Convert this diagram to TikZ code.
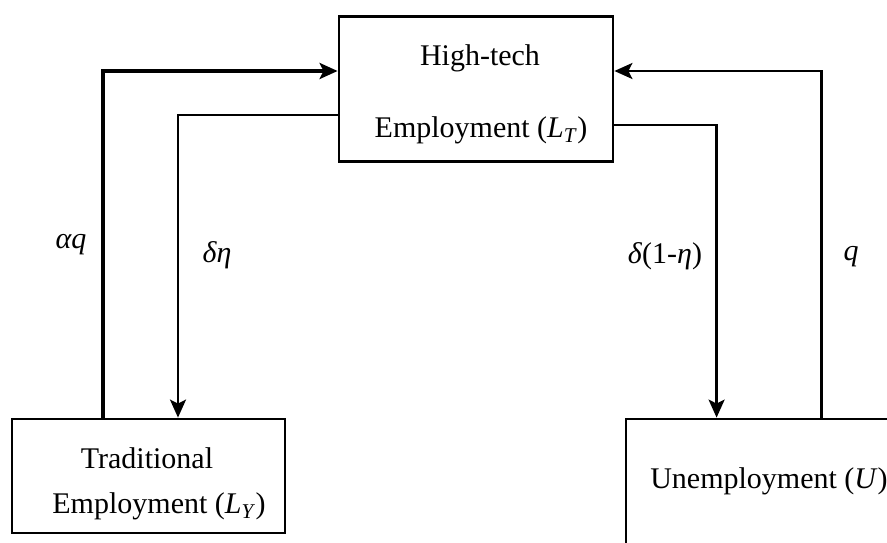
\documentclass[tikz,border=0pt]{standalone}
\usepackage{fontspec}
\setmainfont{Liberation Serif}
\usetikzlibrary{arrows.meta}
\begin{document}
\begin{tikzpicture}[x=1pt,y=-1pt,
  every node/.style={font=\fontsize{30}{36}\selectfont},
  box/.style={draw,line width=2.8pt,inner sep=0pt},
  flow/.style={line width=2.4pt,-{Stealth[length=18pt,width=16pt,inset=4pt]}},
  thickflow/.style={line width=4.4pt,-{Stealth[length=18pt,width=16pt,inset=4pt]}},
  lbl/.style={anchor=base,inner sep=0pt}]
\useasboundingbox (0,0) rectangle (887,543);
\clip (0,0) rectangle (887,543);
% boxes
\node[box,minimum width=274pt,minimum height=145pt] (ht) at (476,89) {};
\node[box,minimum width=273pt,minimum height=114pt] (trad) at (148.5,476) {};
\node[box,minimum width=286pt,minimum height=181pt] (unemp) at (769,509.5) {};
% box texts
\node[lbl] (ht1) at (480,66) {High-tech};
\node[lbl] (ht2) at (481,137.5) {Employment (\textit{L}\textsubscript{\textit{T}})};
\node[lbl] (tr1) at (147,468) {Traditional};
\node[lbl] (tr2) at (159,513) {Employment (\textit{L}\textsubscript{\textit{Y}})};
\node[lbl] (ulab) at (769,488) {Unemployment (\textit{U})};
% flows
\draw[thickflow] ([xshift=-45.5pt]trad.north) |- ([yshift=18pt]ht.west);
\draw[flow] ([yshift=-26pt]ht.west) -| ([xshift=29.5pt]trad.north);
\draw[flow] ([yshift=-36pt]ht.east) -| ([xshift=92pt]unemp.north west);
\draw[flow] ([xshift=197pt]unemp.north west) |- ([yshift=18pt]ht.east);
% rate labels
\node[lbl] (la) at (71,248) {\textit{αq}};
\node[lbl] (lb) at (217,262) {\textit{δη}};
\node[lbl] (lc) at (665,263) {\textit{δ}(1-\textit{η})};
\node[lbl] (ld) at (851,260) {\textit{q}};
\end{tikzpicture}
\end{document}
